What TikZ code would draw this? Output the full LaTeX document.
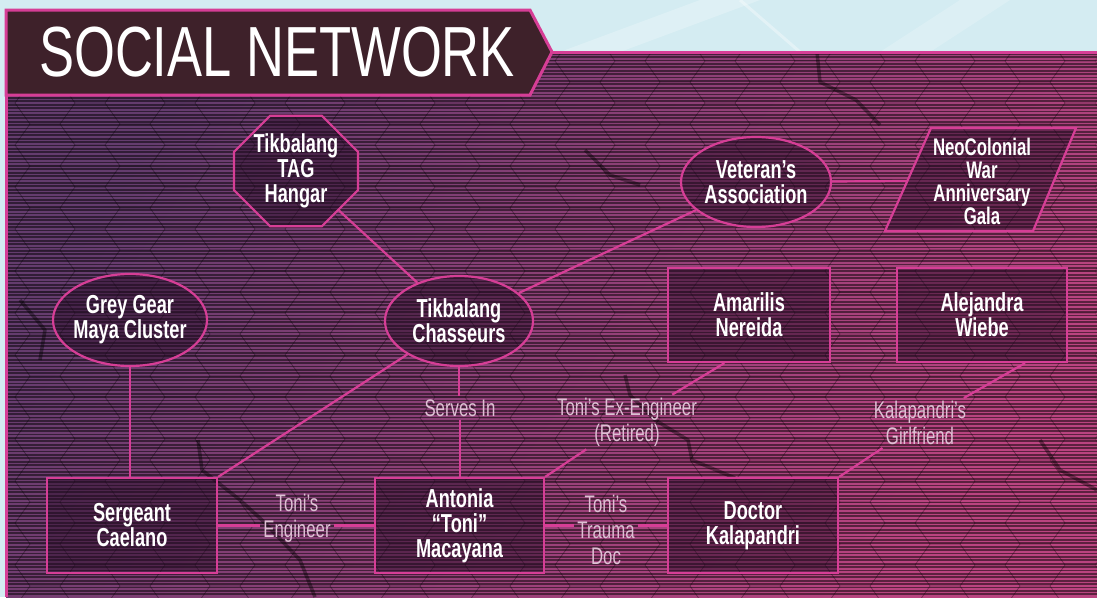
\documentclass[tikz,border=0pt]{standalone}
\usepackage{fontspec}
\usetikzlibrary{shapes.misc,shapes.geometric,calc}
\newfontfamily\nodefont[FakeStretch=0.70]{Liberation Sans}
\newfontfamily\labfont[FakeStretch=0.70]{Liberation Sans}
\newfontfamily\titlefont[FakeStretch=0.74]{Liberation Sans}
\newcommand\nodetext{\nodefont\bfseries\fontsize{26}{25}\selectfont}
\newcommand\galatext{\nodefont\bfseries\fontsize{24}{23}\selectfont}
\newcommand\labtext{\labfont\fontsize{24}{26}\selectfont}
\definecolor{pinkline}{RGB}{214,62,150}
\definecolor{labcol}{RGB}{222,192,212}
\definecolor{titlebg}{RGB}{62,33,42}
\definecolor{sky}{RGB}{212,236,242}
\definecolor{bgL}{RGB}{100,60,110}
\definecolor{bgR}{RGB}{186,68,128}
\definecolor{nodefill}{RGB}{40,14,40}
\tikzset{
  ent/.style={draw=pinkline, line width=2.2pt, fill=nodefill, fill opacity=0.5, text opacity=1, text=white, inner sep=0pt, align=center, font=\nodetext},
  nodetxt/.style={text=white, text opacity=1, fill opacity=0, font=\nodetext, align=center, inner sep=0pt},
  ell/.style={ent, ellipse},
  box/.style={ent, rectangle},
  lab/.style={text=labcol, font=\labtext, align=center, inner sep=3pt},
  conn/.style={draw=pinkline, line width=2.2pt},
  crack/.style={draw=black, opacity=0.4, line width=3.5pt, line join=round},
  hexline/.style={draw=black, opacity=0.2, line width=0.7pt},
}
\begin{document}
\begin{tikzpicture}[x=1pt,y=-1pt]
\useasboundingbox (0,0) rectangle (1097,597);
% light surroundings
\fill[sky] (0,0) rectangle (1097,597);
\fill[white, opacity=0.25] (560,52) -- (700,0) -- (760,0) -- (620,52) -- cycle;
\fill[white, opacity=0.2] (880,52) -- (960,0) -- (1010,0) -- (930,52) -- cycle;
\draw[white, opacity=0.35, line width=3pt] (740,0) -- (800,52);
% panel
\shade[top color=bgL, bottom color=bgR, shading angle=55] (6,52) rectangle (1097,597);
\begin{scope}
  \clip (6,52) rectangle (1097,597);
  \foreach \i in {0,...,24} {
    \foreach \j in {0,...,13} {
      \pgfmathsetmacro\cx{\i*45}
      \pgfmathsetmacro\cy{40+\j*42+mod(\i,2)*21}
      \draw[hexline] (\cx+30,\cy) -- (\cx+15,\cy+21) -- (\cx-15,\cy+21) -- (\cx-30,\cy) -- (\cx-15,\cy-21) -- (\cx+15,\cy-21) -- cycle;
    }
  }
  \foreach \y in {53.7,57.1,...,597} {
    \draw[black, opacity=0.5, line width=1.7pt] (6,\y) -- (1097,\y);
  }
  \draw[crack] (817,52) -- (820,82) -- (856,100) -- (880,125);
  \draw[crack] (198,440) -- (202,470) -- (240,500) -- (262,520) -- (300,560) -- (315,597);
  \draw[crack] (625,375) -- (630,395) -- (655,420) -- (688,440) -- (692,460) -- (735,478);
  \draw[crack] (1040,440) -- (1060,470) -- (1097,490);
  \draw[crack] (20,300) -- (45,330) -- (40,360);
  \draw[crack] (585,150) -- (610,175) -- (640,185);
\end{scope}
\draw[pinkline, line width=3pt] (6,597) -- (6,52) -- (1097,52);
% title
\draw[pinkline, line width=3pt, fill=titlebg] (6,10) -- (530,10) -- (552,52) -- (530,95) -- (6,95) -- cycle;
\node[text=white, font=\titlefont\fontsize{71}{71}\selectfont, inner sep=0pt] (title) at (277,52) {SOCIAL NETWORK};
% entities
\node[ent, chamfered rectangle, chamfered rectangle xsep=18pt, chamfered rectangle ysep=18pt, minimum width=124, minimum height=99] (hangar) at (296,171) {Tikbalang\\TAG\\Hangar};
\node[ell, minimum width=150, minimum height=90, label={[nodetxt]center:Veteran’s\\Association}] (veteran) at (756,182) {};
\draw[conn, fill=nodefill, fill opacity=0.5] (931,128) -- (1076,128) -- (1033,231) -- (885,231) -- cycle;
\node[nodetxt, font=\galatext] (gala) at (982,181) {NeoColonial\\War\\Anniversary\\Gala};
\coordinate (galaW) at (907,181);
\node[ell, minimum width=154, minimum height=92, label={[nodetxt]center:Grey Gear\\Maya Cluster}] (grey) at (130,320) {};
\node[ell, minimum width=148, minimum height=90, label={[nodetxt]center:Tikbalang\\Chasseurs}] (chasseurs) at (459,321) {};
\node[box, minimum width=162, minimum height=94] (amarilis) at (749,315) {Amarilis\\Nereida};
\node[box, minimum width=170, minimum height=94] (alejandra) at (982,315) {Alejandra\\Wiebe};
\node[box, minimum width=170, minimum height=95] (sergeant) at (132,525.5) {Sergeant\\Caelano};
\node[box, minimum width=169, minimum height=95] (toni) at (459.5,525.5) {Antonia\\“Toni”\\Macayana};
\node[box, minimum width=170, minimum height=95] (doctor) at (753,525.5) {Doctor\\Kalapandri};
% labels
\node[lab] (serves) at (460,408) {Serves In};
\node[lab] (exeng) at (627,422) {Toni’s Ex-Engineer\\(Retired)};
\node[lab] (girl) at (920,423) {Kalapandri’s\\Girlfriend};
\node[lab] (eng) at (297,518) {Toni’s\\Engineer};
\node[lab] (trauma) at (606,530) {Toni’s\\Trauma\\Doc};
\coordinate (amarilisP) at ($(amarilis.south west)!0.35!(amarilis.south east)$);
\coordinate (alejandraP) at ($(alejandra.south west)!0.75!(alejandra.south east)$);
% connectors
\draw[conn] (hangar) -- (chasseurs);
\draw[conn] (chasseurs) -- (veteran);
\draw[conn] (veteran) -- (galaW);
\draw[conn] (grey.south) -- (grey.south |- sergeant.north);
\draw[conn] (sergeant.north east) -- (chasseurs);
\draw[conn] (chasseurs.south) -- (chasseurs.south |- serves.north);
\draw[conn] (serves.south) -- (serves.south |- toni.north);
\draw[conn] (amarilisP) -- (exeng);
\draw[conn] (exeng) -- (toni.north east);
\draw[conn] (alejandraP) -- (girl);
\draw[conn] (girl) -- (doctor.north east);
\draw[conn] (sergeant.east) -- (sergeant.east -| eng.west);
\draw[conn] (eng.east |- toni.west) -- (toni.west);
\draw[conn] (toni.east) -- (toni.east -| trauma.west);
\draw[conn] (trauma.east |- doctor.west) -- (doctor.west);
\end{tikzpicture}
\end{document}
